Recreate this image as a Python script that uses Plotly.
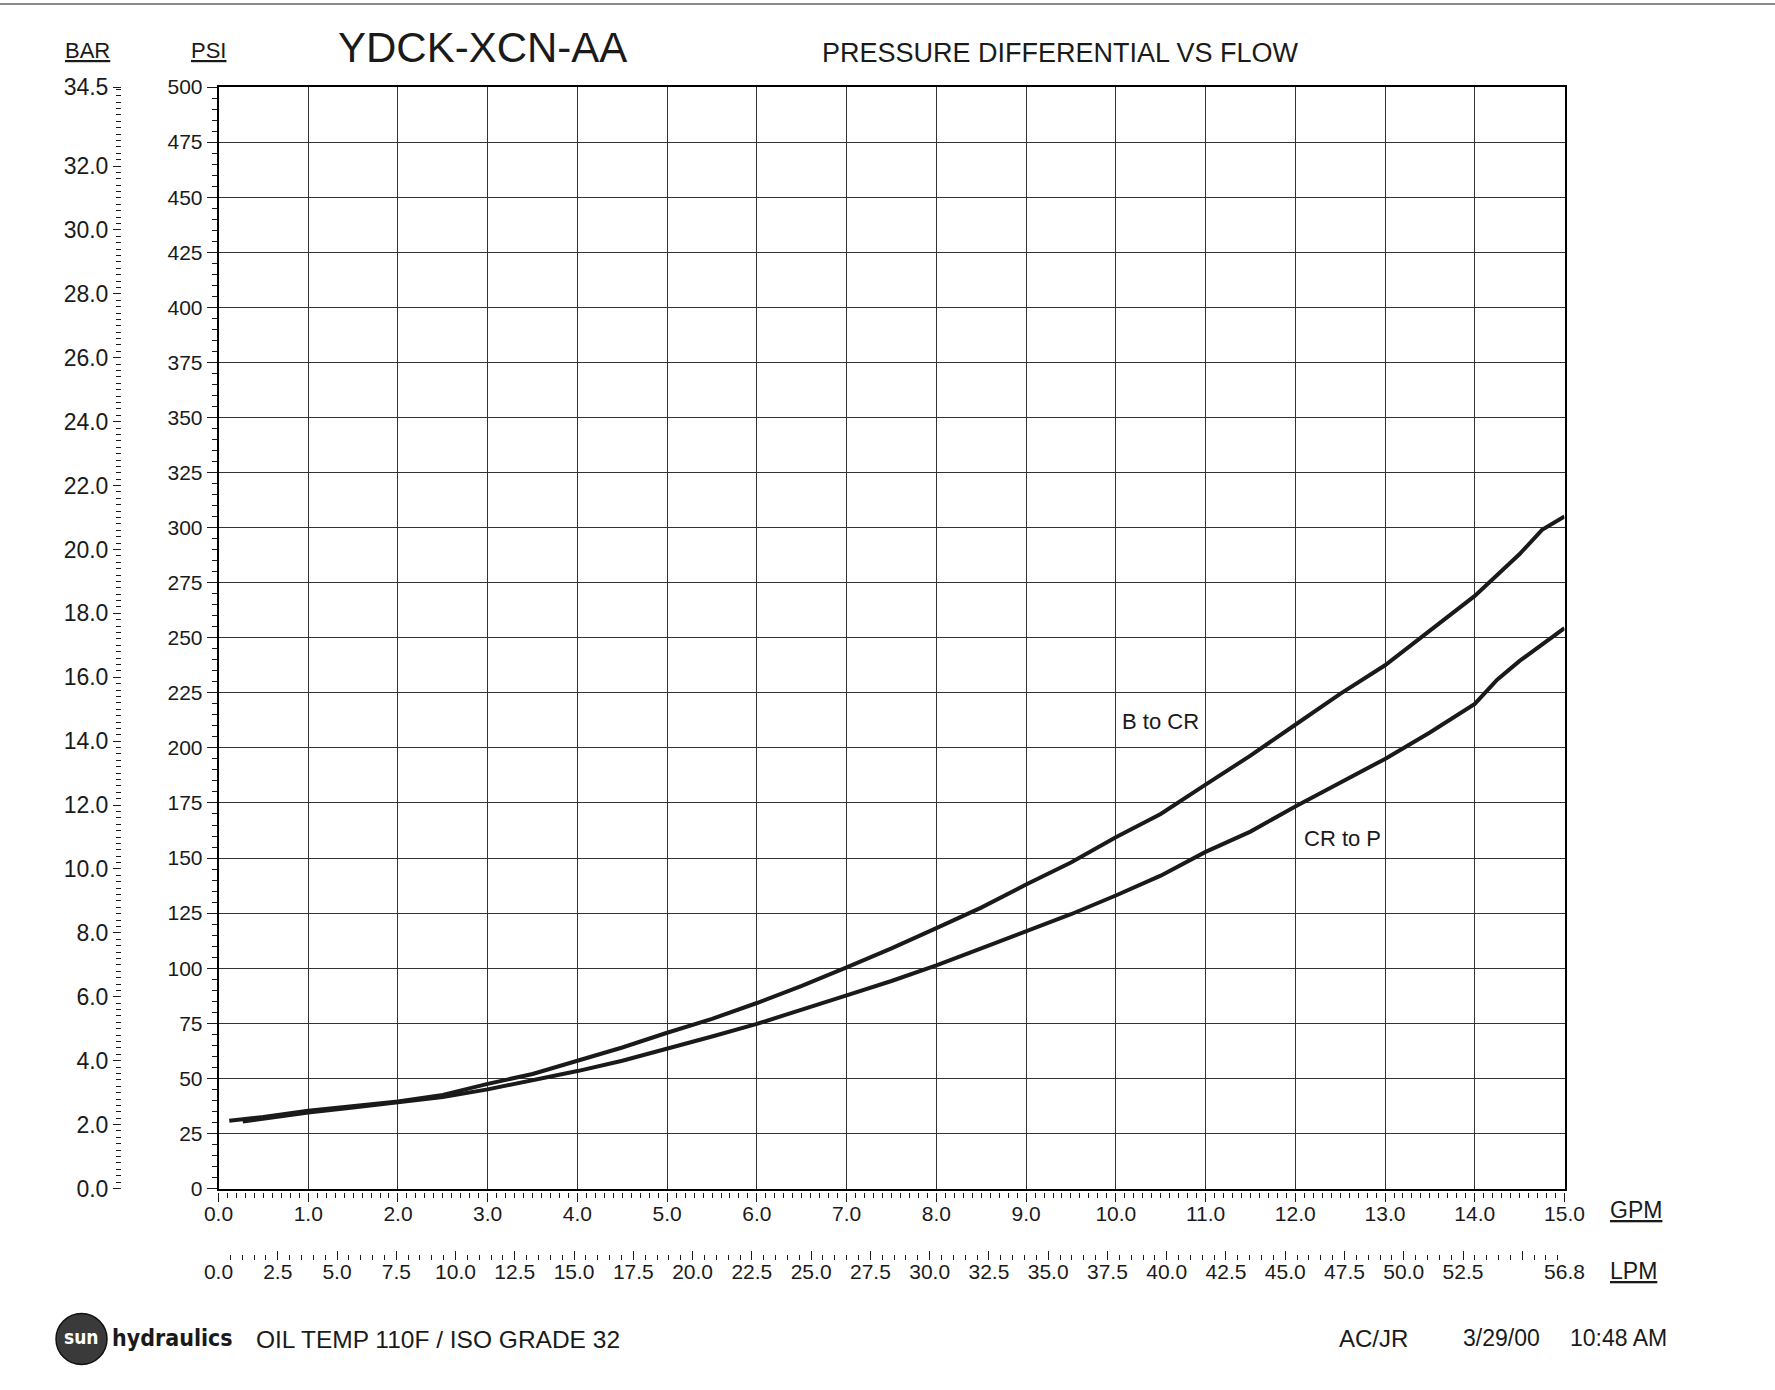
import plotly.graph_objects as go

# Page size in pixels
W, H = 1775, 1390

# ---- data -----------------------------------------------------------------
flow_b_to_cr = [0.12, 0.5, 1.0, 1.5, 2.0, 2.5, 3.0, 3.5, 4.0, 4.5, 5.0, 5.5,
                6.0, 6.5, 7.0, 7.5, 8.0, 8.5, 9.0, 9.5, 10.0, 10.5, 11.0, 11.5,
                12.0, 12.5, 13.0, 13.5, 14.0, 14.5, 14.75, 15.0]
psi_b_to_cr = [30.8, 32.5, 35.3, 37.4, 39.5, 42.5, 47.5, 52.0, 58.0, 64.0, 70.7,
               77.0, 84.2, 92.0, 100.4, 109.0, 118.2, 127.5, 138.0, 148.0, 159.4,
               170.0, 183.3, 196.5, 210.5, 224.5, 237.5, 253.0, 269.0, 288.0,
               299.0, 305.0]

flow_cr_to_p = [0.27, 0.5, 1.0, 1.5, 2.0, 2.5, 3.0, 3.5, 4.0, 4.5, 5.0, 5.5,
                6.0, 6.5, 7.0, 7.5, 8.0, 8.5, 9.0, 9.5, 10.0, 10.5, 11.0, 11.5,
                12.0, 12.5, 13.0, 13.5, 14.0, 14.25, 14.5, 15.0]
psi_cr_to_p = [30.4, 31.8, 34.5, 36.8, 39.0, 41.5, 45.0, 49.0, 53.3, 58.0, 63.4,
               69.0, 74.7, 81.0, 87.7, 94.2, 101.3, 109.0, 116.6, 124.5, 133.0,
               142.0, 152.8, 162.0, 173.4, 184.0, 195.0, 207.0, 220.0, 231.0,
               239.5, 254.4]

curve_labels = ["B to CR", "CR to P"]
label_pos = [(10.5, 212.0), (12.53, 159.0)]

gpm_ticks = list(range(0, 16))
gpm_text = [f"{v:.1f}" for v in gpm_ticks]

lpm_ticks = [i * 2.5 for i in range(0, 23)] + [15 * 3.78541]
lpm_text = [f"{v:.1f}" for v in lpm_ticks[:-2]] + ["", "56.8"]

psi_max = 500
bar_max = psi_max / 14.5038
bar_ticks = [float(v) for v in range(0, 34, 2)] + [bar_max]
bar_text = [f"{v:.1f}" for v in bar_ticks[:-1]] + ["34.5"]

FONT = "Liberation Sans, Arial, sans-serif"
INK = "#1a1a1a"


def px(x):
    return x / W


def py(y):
    return 1 - y / H


# plot area in page pixels
LEFT, RIGHT, TOP, BOTTOM = 218.5, 1564.5, 87.0, 1188.5

fig = go.Figure()

fig.add_trace(go.Scatter(x=flow_b_to_cr, y=psi_b_to_cr, mode="lines",
                         line=dict(color=INK, width=4), name="B to CR",
                         showlegend=False))
fig.add_trace(go.Scatter(x=flow_cr_to_p, y=psi_cr_to_p, mode="lines",
                         line=dict(color=INK, width=4), name="CR to P",
                         showlegend=False))

# invisible anchors so the secondary scales are drawn
for xa, ya in (("x2", "y"), ("x3", "y"), ("x4", "y"), ("x5", "y"),
               ("x", "y2")):
    fig.add_trace(go.Scatter(x=[0], y=[0], xaxis=xa, yaxis=ya, mode="markers",
                             marker=dict(opacity=0), hoverinfo="skip",
                             showlegend=False))

grid = "#333333"
tickfont = dict(family=FONT, size=21, color=INK)
barfont = dict(family=FONT, size=23, color=INK)
LPM_MAX = 15 * 3.78541


def flow_scale(pos, rng, major_vals, minor_step, direction):
    """Tick marks only (no labels) for one of the flow scales."""
    return dict(overlaying="x", anchor="free", position=py(pos),
                side="bottom", range=rng, tickmode="array",
                tickvals=major_vals, showticklabels=False, showgrid=False,
                zeroline=False, showline=False, ticks=direction, ticklen=9,
                tickwidth=1, tickcolor=INK,
                minor=dict(ticks=direction, tickmode="linear", tick0=0,
                           dtick=minor_step, ticklen=5, tickwidth=1,
                           tickcolor=INK, showgrid=False))


def flow_labels(pos, rng, vals, text):
    """Tick labels only for one of the flow scales."""
    return dict(overlaying="x", anchor="free", position=py(pos),
                side="bottom", range=rng, tickmode="array", tickvals=vals,
                ticktext=text, showgrid=False, zeroline=False,
                showline=False, ticks="", tickfont=tickfont)


fig.update_layout(
    width=W, height=H,
    margin=dict(l=0, r=0, t=0, b=0, pad=0, autoexpand=False),
    paper_bgcolor="white", plot_bgcolor="white",
    showlegend=False,
    xaxis=dict(domain=[px(LEFT), px(RIGHT)], range=[0, 15], tick0=0, dtick=1,
               showgrid=True, gridcolor=grid, gridwidth=1, zeroline=False,
               showline=True, mirror=True, linecolor="black", linewidth=1.5,
               ticks="", showticklabels=False),
    yaxis=dict(domain=[py(BOTTOM), py(TOP)], range=[0, psi_max], tick0=0,
               dtick=25, showgrid=True, gridcolor=grid, gridwidth=1,
               zeroline=False, showline=True, mirror=True, linecolor="black",
               linewidth=1.5, ticks="outside", ticklen=10, tickwidth=1,
               tickcolor=INK, tickfont=tickfont, tickformat="d",
               minor=dict(ticks="outside", tick0=0, dtick=5, ticklen=5,
                          tickwidth=1, tickcolor=INK, showgrid=False)),
    yaxis2=dict(overlaying="y", anchor="free", position=px(121), side="left",
                range=[0, bar_max], tickmode="array", tickvals=bar_ticks,
                ticktext=bar_text, showgrid=False, zeroline=False,
                showline=False, ticks="outside", ticklen=8, tickwidth=1,
                tickcolor=INK, tickfont=barfont,
                minor=dict(ticks="outside", tickmode="linear", tick0=0,
                           dtick=0.2, ticklen=5, tickwidth=1, tickcolor=INK,
                           showgrid=False)),
    # GPM scale: ticks hang just below the frame, labels underneath
    xaxis2=flow_scale(1191.5, [0, 15], gpm_ticks, 0.1, "outside"),
    xaxis4=flow_labels(1199, [0, 15], gpm_ticks, gpm_text),
    # LPM scale: ticks stand on a baseline, labels underneath
    xaxis3=flow_scale(1260, [0, LPM_MAX], lpm_ticks, 0.5, "inside"),
    xaxis5=flow_labels(1256.5, [0, LPM_MAX], lpm_ticks, lpm_text),
)

annotations = []


def note(text, x, y, size, anchor="center", ref="paper", weight=None,
         color=INK, family=FONT):
    font = dict(family=family, size=size, color=color)
    if weight:
        font["weight"] = weight
    d = dict(text=text, showarrow=False, font=font, xanchor=anchor,
             yanchor="middle")
    if ref == "paper":
        d.update(xref="paper", yref="paper", x=px(x), y=py(y))
    else:
        d.update(xref="x", yref="y", x=x, y=y)
    annotations.append(d)


# header
note("<u>BAR</u>", 63, 50, 22, anchor="left")
note("<u>PSI</u>", 189, 50, 22, anchor="left")
note("YDCK-XCN-AA", 336, 47, 42, anchor="left")
note("PRESSURE DIFFERENTIAL VS FLOW", 820, 53, 27, anchor="left")

# unit labels beside the flow scales
note("<u>GPM</u>", 1608, 1210, 23, anchor="left")
note("<u>LPM</u>", 1608, 1271, 23, anchor="left")

# curve names
for txt, (gx, gy) in zip(curve_labels, label_pos):
    note(txt, gx, gy, 22, ref="data")

# footer
note("sun", 81.5, 1337, 19, weight="bold", color="white",
     family="DejaVu Sans Condensed, DejaVu Sans, sans-serif")
note("hydraulics", 110, 1338, 23, anchor="left", weight="bold",
     family="DejaVu Sans Condensed, DejaVu Sans, sans-serif")
note("OIL TEMP 110F / ISO GRADE 32", 254, 1339, 24.5, anchor="left")
note("AC/JR", 1337, 1338, 24, anchor="left")
note("3/29/00", 1461, 1338, 23, anchor="left")
note("10:48 AM", 1568, 1338, 23, anchor="left")

fig.update_layout(annotations=annotations)

shapes = [
    # logo disc
    dict(type="circle", xref="paper", yref="paper",
         x0=px(56), x1=px(107), y0=py(1364.5), y1=py(1313.5),
         fillcolor="#3a3a3a", line=dict(color="#111", width=1.5)),
    # page edge at the top
    dict(type="line", xref="paper", yref="paper", x0=0, x1=1,
         y0=py(4), y1=py(4), line=dict(color="#8a8a8a", width=2)),
]
fig.update_layout(shapes=shapes)

# keep the page exactly the size of the figure (no body margin / scrollbars)
page_css = ("document.documentElement.style.margin='0';"
            "document.documentElement.style.overflow='hidden';"
            "document.body.style.margin='0';"
            "document.body.style.overflow='hidden';")

fig.write_html("out.html", post_script=page_css)
